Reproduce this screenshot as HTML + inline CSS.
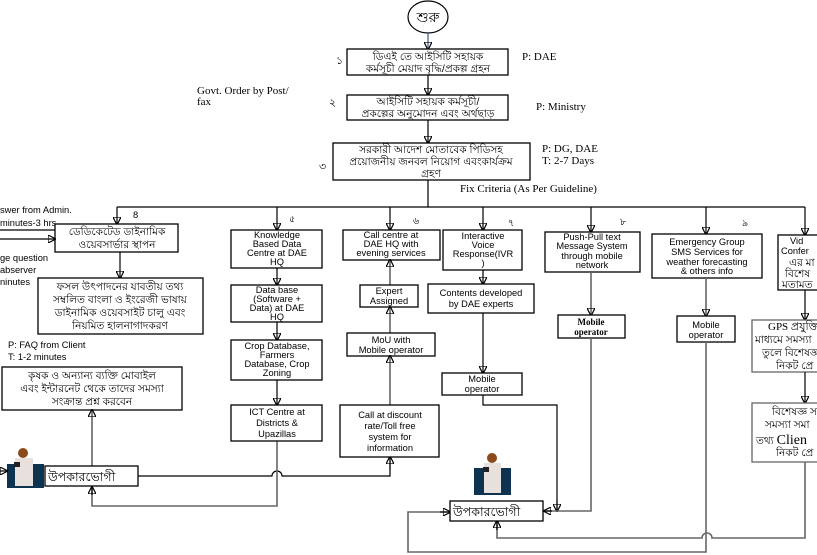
<!DOCTYPE html>
<html><head><meta charset="utf-8"><style>
html,body{margin:0;padding:0;background:#fff;width:817px;height:555px;overflow:hidden}
svg{display:block}
text{font-family:"Liberation Sans","Noto Sans CJK SC",sans-serif;font-size:9.5px;fill:#000}
.s{font-family:"Liberation Serif",serif;font-size:11px}
.b{font-size:10.5px}
.e{font-size:9.3px}
rect{fill:#fff;stroke:#000;stroke-width:1.3}
.g{stroke:#666}
line,polyline,path{stroke:#000;stroke-width:1.2;fill:none}
.gl{stroke:#666;stroke-width:1.6}
</style></head><body>
<svg width="817" height="555" viewBox="0 0 817 555">
<defs><marker id="a" markerWidth="8" markerHeight="8" refX="7" refY="4" orient="auto" markerUnits="userSpaceOnUse"><path d="M0,0 L8,4 L0,8 z" fill="#000" stroke="none"/></marker></defs>

<ellipse cx="428" cy="17" rx="20" ry="16" fill="#fff" stroke="#000" stroke-width="1.2"/>
<text x="428" y="22" text-anchor="middle" style="font-size:14px">শুরু</text>
<line x1="428" y1="33" x2="428" y2="49" style="stroke:#3a5a8a" marker-end="url(#a)"/>

<rect x="347" y="49" width="161" height="26"/>
<text x="428" y="60" text-anchor="middle" class="b">ডিএই তে আইসিটি সহায়ক</text>
<text x="428" y="72" text-anchor="middle" class="b">কর্মসূচী মেয়াদ বৃদ্ধি/প্রকল্প গ্রহন</text>
<text x="336" y="64" class="s">১</text>
<text x="522" y="60" class="s">P: DAE</text>
<line x1="428" y1="75" x2="428" y2="95" marker-end="url(#a)"/>

<rect x="347" y="95" width="161" height="25"/>
<text x="428" y="105" text-anchor="middle" class="b">আইসিটি সহায়ক কর্মসূচী/</text>
<text x="428" y="117" text-anchor="middle" class="b">প্রকল্পের অনুমোদন এবং অর্থছাড়</text>
<text x="329" y="106" class="s">২</text>
<text x="197" y="94" class="s">Govt. Order by Post/</text>
<text x="197" y="105" class="s">fax</text>
<text x="536" y="110" class="s">P: Ministry</text>
<line x1="428" y1="120" x2="428" y2="143" marker-end="url(#a)"/>

<rect x="333" y="143" width="197" height="37"/>
<text x="431" y="153" text-anchor="middle" class="b">সরকারী আদেশ মোতাবেক পিডিসহ</text>
<text x="431" y="165" text-anchor="middle" class="b">প্রয়োজনীয় জনবল নিয়োগ এবংকার্যক্রম</text>
<text x="431" y="177" text-anchor="middle" class="b">গ্রহণ</text>
<text x="319" y="170" class="s">৩</text>
<text x="542" y="152" class="s">P: DG, DAE</text>
<text x="542" y="164" class="s">T: 2-7 Days</text>
<text x="460" y="192" class="s">Fix Criteria (As Per Guideline)</text>
<line x1="428" y1="180" x2="428" y2="207"/>

<line x1="117" y1="207" x2="805" y2="207"/>
<line x1="117" y1="207" x2="117" y2="224" marker-end="url(#a)"/>
<line x1="277" y1="207" x2="277" y2="230" marker-end="url(#a)"/>
<line x1="390" y1="207" x2="390" y2="230" marker-end="url(#a)"/>
<line x1="483" y1="207" x2="483" y2="230" marker-end="url(#a)"/>
<line x1="591" y1="207" x2="591" y2="232" marker-end="url(#a)"/>
<line x1="706" y1="207" x2="706" y2="234" marker-end="url(#a)"/>
<line x1="805" y1="207" x2="805" y2="235" marker-end="url(#a)"/>

<text x="0" y="213" class="e">swer from Admin.</text>
<text x="0" y="226" class="e">minutes-3 hrs</text>
<text x="133" y="218" class="e">8</text>
<rect x="55" y="224" width="123" height="28"/>
<text x="117" y="235" text-anchor="middle" class="b">ডেডিকেটেড  ডাইনামিক</text>
<text x="117" y="248" text-anchor="middle" class="b">ওয়েবসার্ভার স্থাপন</text>
<line x1="0" y1="230" x2="55" y2="230"/>
<line x1="0" y1="239" x2="55" y2="239" marker-end="url(#a)"/>
<text x="0" y="261" class="e">ge question</text>
<text x="0" y="273" class="e">abserver</text>
<text x="0" y="285" class="e">ninutes</text>
<line x1="120" y1="252" x2="120" y2="278" marker-end="url(#a)"/>
<rect x="38" y="278" width="165" height="56"/>
<text x="120" y="290" text-anchor="middle" class="b">ফসল উৎপাদনের যাবতীয় তথ্য</text>
<text x="120" y="303" text-anchor="middle" class="b">সম্বলিত বাংলা ও ইংরেজী ভাষায়</text>
<text x="120" y="316" text-anchor="middle" class="b">ডাইনামিক ওয়েবসাইট চালু এবং</text>
<text x="120" y="329" text-anchor="middle" class="b">নিয়মিত হালনাগাদকরণ</text>
<text x="8" y="348" class="e">P: FAQ from Client</text>
<text x="8" y="360" class="e">T: 1-2 minutes</text>
<rect x="2" y="367" width="180" height="43"/>
<text x="92" y="379" text-anchor="middle" class="b">কৃষক ও অন্যান্য ব্যক্তি মোবাইল</text>
<text x="92" y="392" text-anchor="middle" class="b">এবং ইন্টারনেট থেকে তাদের সমস্যা</text>
<text x="92" y="405" text-anchor="middle" class="b">সংক্রান্ত প্রশ্ন করবেন</text>
<line x1="92" y1="466" x2="92" y2="410" class="gl" marker-end="url(#a)"/>

<!-- person 1 -->
<rect x="7" y="464" width="37" height="24" style="fill:#0d3350;stroke:none"/>
<circle cx="23" cy="453" r="5" fill="#8a4a1a"/>
<rect x="15" y="458" width="18" height="28" style="fill:#e8e0dc;stroke:none"/>
<rect x="14" y="462" width="6" height="5" style="fill:#222;stroke:none"/>
<line x1="0" y1="471" x2="7" y2="471" marker-end="url(#a)"/>
<rect x="45" y="466" width="93" height="20"/>
<text x="48" y="481" style="font-size:12.5px">উপকারভোগী</text>
<path d="M138,476 H272 a4,4 0 0 1 10,0 H390 V456" />
<line x1="390" y1="470" x2="390" y2="457" marker-end="url(#a)"/>
<polyline points="277,441 277,506 92,506 92,487" class="gl"/>
<line x1="92" y1="495" x2="92" y2="487" marker-end="url(#a)"/>

<!-- column 5 -->
<text x="289" y="222" class="e">৫</text>
<rect x="231" y="230" width="91" height="38"/>
<text x="277" y="238" text-anchor="middle" class="e">Knowledge</text>
<text x="277" y="247" text-anchor="middle" class="e">Based Data</text>
<text x="277" y="256" text-anchor="middle" class="e">Centre at DAE</text>
<text x="277" y="265" text-anchor="middle" class="e">HQ</text>
<line x1="277" y1="268" x2="277" y2="285" marker-end="url(#a)"/>
<rect x="231" y="285" width="91" height="37"/>
<text x="277" y="293" text-anchor="middle" class="e">Data base</text>
<text x="277" y="302" text-anchor="middle" class="e">(Software +</text>
<text x="277" y="311" text-anchor="middle" class="e">Data)  at DAE</text>
<text x="277" y="320" text-anchor="middle" class="e">HQ</text>
<line x1="277" y1="322" x2="277" y2="340" marker-end="url(#a)"/>
<rect x="231" y="340" width="91" height="40"/>
<text x="277" y="349" text-anchor="middle" class="e">Crop Database,</text>
<text x="277" y="358" text-anchor="middle" class="e">Farmers</text>
<text x="277" y="367" text-anchor="middle" class="e">Database, Crop</text>
<text x="277" y="376" text-anchor="middle" class="e">Zoning</text>
<line x1="277" y1="380" x2="277" y2="405" marker-end="url(#a)"/>
<rect x="231" y="405" width="91" height="36"/>
<text x="277" y="415" text-anchor="middle" class="e">ICT Centre at</text>
<text x="277" y="426" text-anchor="middle" class="e">Districts &amp;</text>
<text x="277" y="437" text-anchor="middle" class="e">Upazillas</text>

<!-- column 6 -->
<text x="413" y="224" class="e">৬</text>
<rect x="343" y="230" width="97" height="30"/>
<text x="391" y="238" text-anchor="middle" class="e">Call centre at</text>
<text x="391" y="247" text-anchor="middle" class="e">DAE HQ with</text>
<text x="391" y="256" text-anchor="middle" class="e">evening services</text>
<line x1="390" y1="285" x2="390" y2="260" class="gl" marker-end="url(#a)"/>
<rect x="360" y="285" width="58" height="22"/>
<text x="389" y="294" text-anchor="middle" class="e">Expert</text>
<text x="389" y="304" text-anchor="middle" class="e">Assigned</text>
<line x1="390" y1="333" x2="390" y2="307" class="gl" marker-end="url(#a)"/>
<rect x="347" y="333" width="88" height="23"/>
<text x="391" y="343" text-anchor="middle" class="e">MoU with</text>
<text x="391" y="353" text-anchor="middle" class="e">Mobile operator</text>
<line x1="390" y1="405" x2="390" y2="356" class="gl" marker-end="url(#a)"/>
<rect x="340" y="405" width="99" height="52"/>
<text x="390" y="418" text-anchor="middle" class="e">Call at discount</text>
<text x="390" y="429" text-anchor="middle" class="e">rate/Toll free</text>
<text x="390" y="440" text-anchor="middle" class="e">system for</text>
<text x="390" y="451" text-anchor="middle" class="e">information</text>

<!-- column 7 -->
<text x="508" y="226" class="e">৭</text>
<rect x="443" y="230" width="79" height="40"/>
<text x="483" y="239" text-anchor="middle" class="e">Interactive</text>
<text x="483" y="248" text-anchor="middle" class="e">Voice</text>
<text x="483" y="257" text-anchor="middle" class="e">Response(IVR</text>
<text x="483" y="266" text-anchor="middle" class="e">)</text>
<line x1="483" y1="270" x2="483" y2="284" marker-end="url(#a)"/>
<rect x="428" y="284" width="106" height="29"/>
<text x="481" y="296" text-anchor="middle" class="e">Contents developed</text>
<text x="481" y="307" text-anchor="middle" class="e">by DAE experts</text>
<line x1="483" y1="313" x2="483" y2="373" marker-end="url(#a)"/>
<rect x="442" y="373" width="80" height="22"/>
<text x="482" y="382" text-anchor="middle" class="e">Mobile</text>
<text x="482" y="392" text-anchor="middle" class="e">operator</text>
<polyline points="483,395 483,405 557,405 557,511"/>
<line x1="557" y1="500" x2="557" y2="511" marker-end="url(#a)"/>

<!-- column 8 -->
<text x="620" y="225" class="e">৮</text>
<rect x="545" y="232" width="95" height="40"/>
<text x="592" y="240" text-anchor="middle" class="e">Push-Pull text</text>
<text x="592" y="249" text-anchor="middle" class="e">Message System</text>
<text x="592" y="259" text-anchor="middle" class="e">through  mobile</text>
<text x="592" y="268" text-anchor="middle" class="e">network</text>
<line x1="591" y1="272" x2="591" y2="315" class="gl" marker-end="url(#a)"/>
<rect x="558" y="315" width="67" height="23"/>
<text x="591" y="325" text-anchor="middle" class="s" style="font-size:9px;font-weight:bold">Mobile</text>
<text x="591" y="335" text-anchor="middle" class="s" style="font-size:9px;font-weight:bold">operator</text>
<polyline points="591,338 591,511 544,511" class="gl"/>
<line x1="552" y1="511" x2="544" y2="511" marker-end="url(#a)"/>

<!-- column 9 -->
<text x="742" y="226" class="e">৯</text>
<rect x="652" y="234" width="110" height="44"/>
<text x="707" y="245" text-anchor="middle" class="e">Emergency Group</text>
<text x="707" y="255" text-anchor="middle" class="e">SMS Services for</text>
<text x="707" y="265" text-anchor="middle" class="e">weather forecasting</text>
<text x="707" y="274" text-anchor="middle" class="e">&amp; others info</text>
<line x1="706" y1="278" x2="706" y2="316" class="gl" marker-end="url(#a)"/>
<rect x="677" y="316" width="58" height="26"/>
<text x="706" y="328" text-anchor="middle" class="e">Mobile</text>
<text x="706" y="338" text-anchor="middle" class="e">operator</text>
<polyline points="706,342 706,552 408,552 408,512 450,512" class="gl"/>
<line x1="440" y1="512" x2="450" y2="512" marker-end="url(#a)"/>

<!-- column 10 -->
<rect x="778" y="235" width="45" height="55"/>
<text x="790" y="244" class="e">Vid</text>
<text x="781" y="254" class="e">Confer</text>
<text x="789" y="266" class="b">এর মা</text>
<text x="785" y="277" class="b">বিশেষ</text>
<text x="782" y="288" class="b">মতামত</text>
<line x1="805" y1="290" x2="805" y2="320" marker-end="url(#a)"/>
<rect x="752" y="320" width="70" height="52" class="g"/>
<text x="768" y="330" class="s">GPS প্রযুক্তি</text>
<text x="755" y="343" class="b">মাধ্যমে সমস্যা</text>
<text x="762" y="356" class="b">তুলে বিশেষজ্ঞ</text>
<text x="776" y="369" class="b">নিকট প্রে</text>
<line x1="805" y1="372" x2="805" y2="403" marker-end="url(#a)"/>
<rect x="752" y="403" width="70" height="59" class="g"/>
<text x="772" y="415" class="b">বিশেষজ্ঞ স</text>
<text x="765" y="428" class="b">সমস্যা সমা</text>
<text x="756" y="444" class="b">তথ্য <tspan class="s" style="font-size:14px">Clien</tspan></text>
<text x="776" y="456" class="b">নিকট প্রে</text>
<path d="M805,462 V538 H712 a5,5 0 0 0 -10,0 H497 V521" class="gl"/>
<line x1="497" y1="530" x2="497" y2="521" marker-end="url(#a)"/>

<!-- person 2 -->
<rect x="474" y="468" width="37" height="27" style="fill:#0d3350;stroke:none"/>
<circle cx="492" cy="458" r="5" fill="#8a4a1a"/>
<rect x="484" y="463" width="17" height="30" style="fill:#e8e0dc;stroke:none"/>
<rect x="483" y="467" width="6" height="5" style="fill:#222;stroke:none"/>
<rect x="450" y="501" width="93" height="20"/>
<text x="453" y="516" style="font-size:12.5px">উপকারভোগী</text>
</svg>
</body></html>
